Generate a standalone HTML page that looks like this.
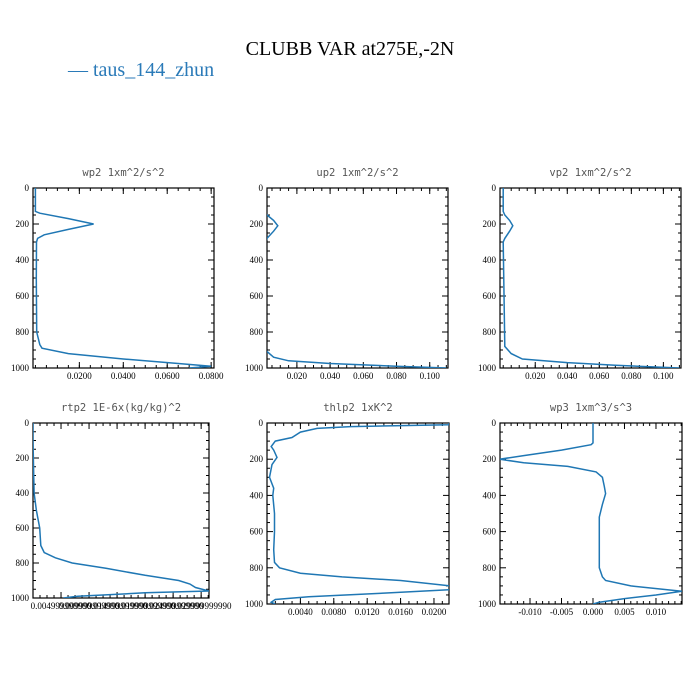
<!DOCTYPE html>
<html><head><meta charset="utf-8"><style>
body{margin:0;background:#fff;}
svg{display:block;}
.tt{font-family:"DejaVu Sans Mono","Liberation Mono",monospace;font-size:10.5px;fill:#555;}
.tk{font-family:"Liberation Serif",serif;font-size:9px;fill:#000;}
</style></head><body>
<svg id="chart" width="700" height="700" xmlns="http://www.w3.org/2000/svg">
<text x="350" y="55" text-anchor="middle" font-family="Liberation Serif, serif" font-size="20">CLUBB VAR at275E,-2N</text>
<text x="68" y="76" font-family="Liberation Serif, serif" font-size="20" fill="#2a7ab8">— taus_144_zhun</text>
</svg>
<script>
const levels_wp2=[0,100,130,140,170,200,230,260,280,300,500,800,870,890,920,950,975,990,1000];
const vals_wp2=[0,0,0,0.002,0.015,0.0265,0.015,0.004,0.001,0.0005,0.0004,0.0006,0.002,0.003,0.015,0.04,0.065,0.08,0.07];
const levels_up2=[0,130,150,180,210,240,280,320,900,940,960,975,990,1000];
const vals_up2=[0,0,0.002,0.006,0.0085,0.006,0.002,0.0005,0.001,0.006,0.015,0.04,0.08,0.11];
const levels_vp2=[0,130,150,180,210,240,280,300,880,920,950,970,985,1000];
const vals_vp2=[0,0,0.001,0.004,0.006,0.004,0.001,0,0.001,0.005,0.012,0.04,0.07,0.11];
const levels_rtp2=[0,100,400,500,600,700,740,770,800,830,870,900,920,940,960,970,990,1000];
const vals_rtp2=[0,0,0.0002,0.0006,0.0012,0.0014,0.002,0.004,0.007,0.013,0.02,0.026,0.028,0.029,0.0314,0.02,0.008,0.0054];
const levels_thlp2=[0,10,20,30,50,80,100,130,150,190,230,300,360,400,500,600,700,770,800,830,850,870,900,920,940,960,975,990,1000];
const vals_thlp2=[0.0218,0.0218,0.01,0.006,0.004,0.003,0.001,0.0005,0.0008,0.0012,0.0006,0.0003,0.0008,0.0007,0.0009,0.0009,0.0008,0.0009,0.0015,0.004,0.009,0.016,0.022,0.0225,0.014,0.005,0.001,0.0005,0.001];
const levels_wp3=[0,110,120,150,180,200,220,240,270,300,350,390,450,520,700,800,850,870,900,930,950,970,990,1000];
const vals_wp3=[0,0,-0.0003,-0.005,-0.011,-0.0148,-0.011,-0.004,0.0005,0.0015,0.0018,0.002,0.0015,0.001,0.001,0.001,0.0015,0.002,0.006,0.0141,0.01,0.005,0.001,0];
const ticks_wp2=[0.02,0.04,0.06,0.08],tl_wp2=["0.0200","0.0400","0.0600","0.0800"];
const ticks_up2=[0.02,0.04,0.06,0.08,0.1],tl_up2=["0.020","0.040","0.060","0.080","0.100"];
const ticks_rtp2=[0.005,0.01,0.015,0.02,0.025,0.03],tl_rtp2=["0.004999999990","0.009999999990","0.014999999990","0.019999999990","0.024999999990","0.029999999990"];
const ticks_thlp2=[0.004,0.008,0.012,0.016,0.02],tl_thlp2=["0.0040","0.0080","0.0120","0.0160","0.0200"];
const ticks_wp3=[-0.01,-0.005,0,0.005,0.01],tl_wp3=["-0.010","-0.005","0.000","0.005","0.010"];
const yticks=[0,200,400,600,800,1000];
const NS="http://www.w3.org/2000/svg";
const svg=document.getElementById('chart');
function mk(t,a,p){const e=document.createElementNS(NS,t);for(const k in a)e.setAttribute(k,a[k]);(p||svg).appendChild(e);return e;}
const panels=[
 {n:'wp2',t:'wp2  1xm^2/s^2',x0:33,x1:214,y0:188,y1:368,xmin:-0.0011,xmax:0.0813,lv:levels_wp2,v:vals_wp2,tk:ticks_wp2,tl:tl_wp2,minor:0.005},
 {n:'up2',t:'up2  1xm^2/s^2',x0:267,x1:448,y0:188,y1:368,xmin:0.002,xmax:0.111,lv:levels_up2,v:vals_up2,tk:ticks_up2,tl:tl_up2,minor:0.005},
 {n:'vp2',t:'vp2  1xm^2/s^2',x0:500,x1:681,y0:188,y1:368,xmin:-0.002,xmax:0.111,lv:levels_vp2,v:vals_vp2,tk:ticks_up2,tl:tl_up2,minor:0.005},
 {n:'rtp2',t:'rtp2  1E-6x(kg/kg)^2',x0:33,x1:209,y0:423,y1:598,xmin:0,xmax:0.0314,lv:levels_rtp2,v:vals_rtp2,tk:ticks_rtp2,tl:tl_rtp2,minor:0.00125},
 {n:'thlp2',t:'thlp2  1xK^2',x0:267,x1:449,y0:423,y1:604,xmin:0,xmax:0.0218,lv:levels_thlp2,v:vals_thlp2,tk:ticks_thlp2,tl:tl_thlp2,minor:0.001},
 {n:'wp3',t:'wp3  1xm^3/s^3',x0:500,x1:682,y0:423,y1:604,xmin:-0.01476,xmax:0.01413,lv:levels_wp3,v:vals_wp3,tk:ticks_wp3,tl:tl_wp3,minor:0.001}
];
panels.forEach(p=>{
 const g=mk('g',{});
 
 
 const xs=v=>p.x0+(v-p.xmin)/(p.xmax-p.xmin)*(p.x1-p.x0);
 const ys=v=>p.y0+v/1000*(p.y1-p.y0);
 const tt=mk('text',{x:(p.x0+p.x1)/2,y:p.y0-12,'text-anchor':'middle',class:'tt'},g);tt.textContent=p.t;
 
 
 const fr=mk('rect',{x:p.x0,y:p.y0,width:p.x1-p.x0,height:p.y1-p.y0,fill:'none',stroke:'#000','stroke-width':1.2},g);
 
 
 // y ticks
 for(let v=0;v<=1000;v+=50){const y=ys(v),L=v%200===0?6:3;
  mk('line',{x1:p.x0,x2:p.x0+L,y1:y,y2:y,stroke:'#000'},g);mk('line',{x1:p.x1,x2:p.x1-L,y1:y,y2:y,stroke:'#000'},g);}
 yticks.forEach(v=>{const t=mk('text',{x:p.x0-4,y:ys(v)+3,'text-anchor':'end',class:'tk'},g);t.textContent=v;
  
  });
 // x minor ticks
 const s=Math.ceil(p.xmin/p.minor-1e-9);
 for(let i=s;p.minor*i<=p.xmax+1e-12;i++){const x=xs(p.minor*i);
  mk('line',{x1:x,x2:x,y1:p.y0,y2:p.y0+3,stroke:'#000'},g);mk('line',{x1:x,x2:x,y1:p.y1,y2:p.y1-3,stroke:'#000'},g);}
 p.tk.forEach((v,i)=>{const x=xs(v);
  mk('line',{x1:x,x2:x,y1:p.y0,y2:p.y0+6,stroke:'#000'},g);mk('line',{x1:x,x2:x,y1:p.y1,y2:p.y1-6,stroke:'#000'},g);
  const t=mk('text',{x:x,y:p.y1+11,'text-anchor':'middle',class:'tk'},g);t.textContent=p.tl[i];
  
  });
 const d=p.lv.map((l,i)=>(i?'L':'M')+xs(p.v[i]).toFixed(1)+','+ys(l).toFixed(1)).join('');
 const cp=mk('clipPath',{id:'c'+p.n},g);mk('rect',{x:p.x0,y:p.y0,width:p.x1-p.x0,height:p.y1-p.y0},cp);
 const ln=mk('path',{d:d,fill:'none',stroke:'#1f77b4','stroke-width':1.5,'clip-path':'url(#c'+p.n+')'},g);
 
 
});
</script>
</body></html>
